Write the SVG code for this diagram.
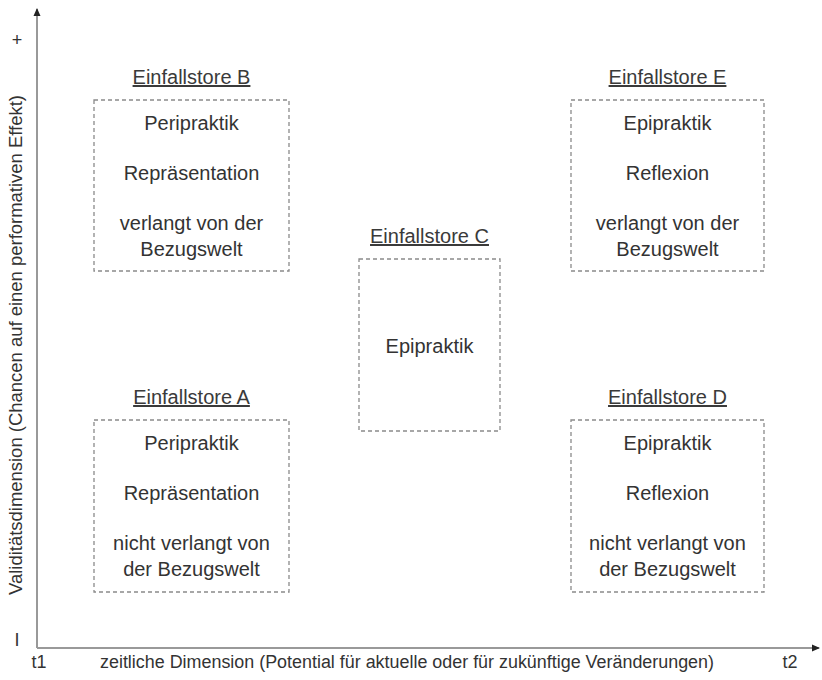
<svg xmlns="http://www.w3.org/2000/svg" width="822" height="680" viewBox="0 0 822 680">
<defs>
<marker id="arr" markerWidth="8" markerHeight="8" refX="7" refY="4" orient="auto" markerUnits="userSpaceOnUse">
<path d="M0,0.5 L8,4 L0,7.5 Z" fill="#222"/>
</marker>
<style>
text{font-family:"Liberation Sans",Arial,sans-serif;fill:#333;}
.t{font-size:20px;text-anchor:middle;}
.h{font-size:20px;text-anchor:middle;text-decoration:underline;fill:#3a3a3a;}
.ax{font-size:18px;fill:#333;}
.box{fill:none;stroke:#8a8a8a;stroke-width:1.3;stroke-dasharray:4 3;}
.axis{stroke:#999;stroke-width:2;fill:none;}
</style>
</defs>
<rect width="822" height="680" fill="#fff"/>
<g id="axes">
<line class="axis" x1="37" y1="648" x2="37" y2="9" marker-end="url(#arr)"/>
<line class="axis" x1="37" y1="648" x2="819" y2="648" marker-end="url(#arr)"/>
<text class="ax" x="17" y="46" text-anchor="middle">+</text>
<text class="ax" x="17" y="646" text-anchor="middle">I</text>
<text class="ax" x="39" y="668" text-anchor="middle">t1</text>
<text class="ax" x="790" y="668" text-anchor="middle">t2</text>
<text class="ax" x="407" y="668" text-anchor="middle" textLength="614" lengthAdjust="spacingAndGlyphs">zeitliche Dimension (Potential für aktuelle oder für zukünftige Veränderungen)</text>
<text class="ax" transform="translate(22,345) rotate(-90)" text-anchor="middle" textLength="500" lengthAdjust="spacingAndGlyphs">Validitätsdimension (Chancen auf einen performativen Effekt)</text>
</g>
<g id="nodeB">
<text class="h" x="191.5" y="84">Einfallstore B</text>
<rect class="box" x="94" y="100" width="195" height="171"/>
<text class="t" x="191.5" y="130">Peripraktik</text>
<text class="t" x="191.5" y="180">Repräsentation</text>
<text class="t" x="191.5" y="230">verlangt von der</text>
<text class="t" x="191.5" y="256">Bezugswelt</text>
</g>
<g id="nodeE">
<text class="h" x="667.5" y="84">Einfallstore E</text>
<rect class="box" x="571" y="100" width="193" height="171"/>
<text class="t" x="667.5" y="130">Epipraktik</text>
<text class="t" x="667.5" y="180">Reflexion</text>
<text class="t" x="667.5" y="230">verlangt von der</text>
<text class="t" x="667.5" y="256">Bezugswelt</text>
</g>
<g id="nodeC">
<text class="h" x="429.5" y="243">Einfallstore C</text>
<rect class="box" x="359" y="259" width="141" height="172"/>
<text class="t" x="429.5" y="353">Epipraktik</text>
</g>
<g id="nodeA">
<text class="h" x="191.5" y="404">Einfallstore A</text>
<rect class="box" x="94" y="420" width="195" height="172"/>
<text class="t" x="191.5" y="450">Peripraktik</text>
<text class="t" x="191.5" y="500">Repräsentation</text>
<text class="t" x="191.5" y="550">nicht verlangt von</text>
<text class="t" x="191.5" y="576">der Bezugswelt</text>
</g>
<g id="nodeD">
<text class="h" x="667.5" y="404">Einfallstore D</text>
<rect class="box" x="571" y="420" width="193" height="172"/>
<text class="t" x="667.5" y="450">Epipraktik</text>
<text class="t" x="667.5" y="500">Reflexion</text>
<text class="t" x="667.5" y="550">nicht verlangt von</text>
<text class="t" x="667.5" y="576">der Bezugswelt</text>
</g>
<g id="connectors"></g>
</svg>
